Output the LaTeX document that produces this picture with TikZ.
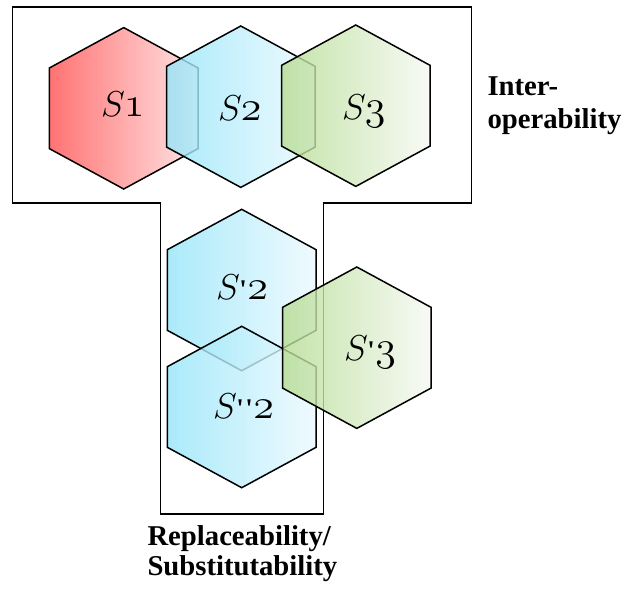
\RequirePackage{fix-cm}
\documentclass[tikz,border=0pt]{standalone}
\usepackage{fontspec}
\newfontfamily\sideserif{Liberation Serif}
\DeclareMathSizes{36}{36}{28}{20}
\DeclareMathSizes{42}{42}{30}{21}
\definecolor{redL}{RGB}{255,80,80}
\definecolor{redR}{RGB}{255,221,221}
\definecolor{cyL}{RGB}{149,229,249}
\definecolor{cyR}{RGB}{236,249,254}
\definecolor{grL}{RGB}{181,220,146}
\definecolor{grR}{RGB}{246,249,243}
\newcommand\tick{\kern1pt\raisebox{1pt}{\sideserif\bfseries\fontsize{27}{27}\selectfont\textquotesingle}\kern0.5pt}
\newcommand\digit[1]{{\fontsize{42}{42}\selectfont$\mathnormal{#1}$}}
\newcommand\slab[1]{$S$\kern-1pt\digit{#1}}
\newcommand\plab[2]{$S$\kern-1.5pt#1\digit{#2}}
\tikzset{
  hexa/.style={draw=black, line width=1.5pt, line join=miter, fill opacity=0.8},
  hred/.style={hexa, left color=redL, right color=redR},
  hcyan/.style={hexa, left color=cyL, right color=cyR},
  hgreen/.style={hexa, left color=grL, right color=grR},
  hlab/.style={inner sep=0pt, anchor=base west, font=\fontsize{36}{40}\selectfont},
  sidelab/.style={inner sep=0pt, anchor=base west, align=left,
    font=\sideserif\bfseries\fontsize{28.7}{33.3}\selectfont},
  frame/.style={draw=black, line width=1.1pt, line join=miter}
}
\begin{document}
\begin{tikzpicture}[x=1pt, y=-1pt]
\useasboundingbox (0,0) rectangle (624,590);
% frame
\coordinate (f1) at (12.7,7);
\coordinate (f2) at (471.7,7);
\coordinate (f3) at (471.7,203);
\coordinate (f4) at (323.5,203);
\coordinate (f5) at (323.5,514);
\coordinate (f6) at (160.5,514);
\coordinate (f7) at (160.5,203);
\coordinate (f8) at (12.7,203);
\draw[frame] (f1) -- (f2) -- (f3) -- (f4) -- (f5) -- (f6) -- (f7) -- (f8) -- cycle;
% centres
\coordinate (c1) at (123.7,108.3);
\coordinate (c2) at (240.8,106.7);
\coordinate (c3) at (355.8,105.7);
\coordinate (c4) at (241.7,290);
\coordinate (c5) at (241.7,407);
\coordinate (c6) at (356.8,347.7);
% hexagons
\path[hred] (c1) +(0,-80.7) -- +(74.3,-40.35) -- +(74.3,40.35) -- +(0,80.7) -- +(-74.3,40.35) -- +(-74.3,-40.35) -- cycle;
\path[hcyan] (c2) +(0,-80.7) -- +(74.3,-40.35) -- +(74.3,40.35) -- +(0,80.7) -- +(-74.3,40.35) -- +(-74.3,-40.35) -- cycle;
\path[hgreen] (c3) +(0,-80.7) -- +(74.3,-40.35) -- +(74.3,40.35) -- +(0,80.7) -- +(-74.3,40.35) -- +(-74.3,-40.35) -- cycle;
\path[hcyan] (c4) +(0,-80.7) -- +(74.3,-40.35) -- +(74.3,40.35) -- +(0,80.7) -- +(-74.3,40.35) -- +(-74.3,-40.35) -- cycle;
\path[hcyan] (c5) +(0,-80.7) -- +(74.3,-40.35) -- +(74.3,40.35) -- +(0,80.7) -- +(-74.3,40.35) -- +(-74.3,-40.35) -- cycle;
\path[hgreen] (c6) +(0,-80.7) -- +(74.3,-40.35) -- +(74.3,40.35) -- +(0,80.7) -- +(-74.3,40.35) -- +(-74.3,-40.35) -- cycle;
% labels
\node[hlab] (l1) at (101,116) {\slab{1}};
\node[hlab] (l2) at (218,120) {\slab{2}};
\node[hlab] (l3) at (342,119) {\slab{3}};
\node[hlab] (l4) at (216,299) {\plab{\tick}{2}};
\node[hlab] (l5) at (213,418) {\plab{\tick\tick}{2}};
\node[hlab] (l6) at (344,360) {\plab{\tick}{3}};
\node[sidelab] (inter) at (487.3,128.3) {Inter-\\operability};
\node[sidelab] (repl) at (147.3,575) {Replaceability/\\[-3.3pt]Substitutability};
\end{tikzpicture}
\end{document}
